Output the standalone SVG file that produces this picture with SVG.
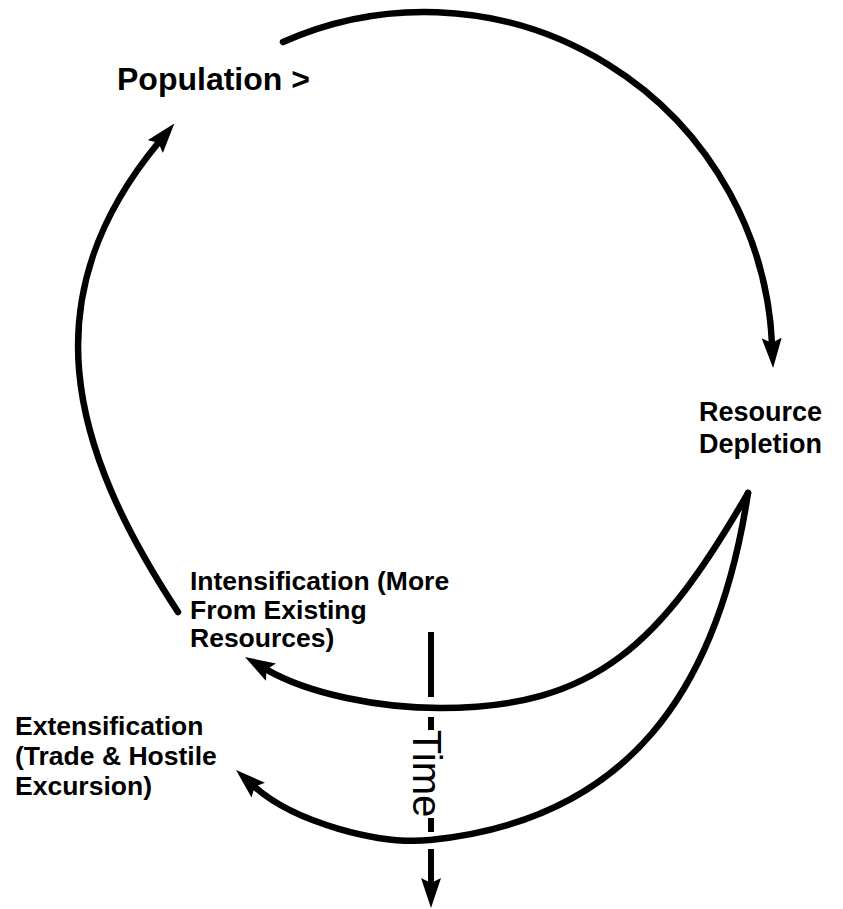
<svg xmlns="http://www.w3.org/2000/svg" width="843" height="909" viewBox="0 0 843 909">
  <style>
    .lbl { font-family: "Liberation Sans", Arial, sans-serif; font-weight: bold; fill: #000; }
    .conn { fill: none; stroke: #000; stroke-width: 6.5; stroke-linecap: round; }
    .axis { fill: none; stroke: #000; stroke-width: 6; stroke-linecap: butt; }
    .axis-lbl { font-family: "Liberation Sans", Arial, sans-serif; font-weight: normal; font-size: 40px; fill: #000; }
  </style>
  <defs>
    <marker id="arrow" viewBox="0 0 30 20" refX="6" refY="10" markerWidth="30" markerHeight="20" markerUnits="userSpaceOnUse" orient="auto">
      <path d="M0,0 L30,10 L0,20 L5,10 Z" fill="#000"/>
    </marker>
  </defs>
  <rect width="843" height="909" fill="#fff"/>

  <g id="connectors">
    <path id="pop-to-depletion" class="conn" marker-end="url(#arrow)" d="M283,42 A348,348 0 0 1 772,344"/>
    <path id="intensification-to-pop" class="conn" marker-end="url(#arrow)" d="M178,612 C68,445 31,296 159,142"/>
    <path id="depletion-to-intensification" class="conn" marker-end="url(#arrow)" d="M748,493 C661,643.7 596,708 440,708 C380,708 309,694.3 265.7,669.1"/>
    <path id="depletion-to-extensification" class="conn" marker-end="url(#arrow)" d="M748,493 C718,691 628,820 430,840 C380.5,845 294.5,823 253.8,786.1"/>
  </g>

  <g id="time">
    <line class="axis" x1="431" y1="632" x2="431" y2="697"/>
    <line class="axis" x1="431" y1="717" x2="431" y2="730"/>
    <line class="axis" x1="431" y1="818" x2="431" y2="832"/>
    <line class="axis" x1="431" y1="849" x2="431" y2="884" marker-end="url(#arrow)"/>
    <text class="axis-lbl" transform="translate(413,773.5) rotate(90)" text-anchor="middle">Time</text>
  </g>

  <g id="population">
    <text class="lbl" x="117" y="90" font-size="32">Population &gt;</text>
  </g>

  <g id="resource-depletion">
    <text class="lbl" x="699" y="421" font-size="27">Resource</text>
    <text class="lbl" x="699" y="453" font-size="27">Depletion</text>
  </g>

  <g id="intensification">
    <text class="lbl" x="190" y="590" font-size="26.5">Intensification (More</text>
    <text class="lbl" x="190" y="618.5" font-size="26.5">From Existing</text>
    <text class="lbl" x="190" y="647" font-size="26.5">Resources)</text>
  </g>

  <g id="extensification">
    <text class="lbl" x="15" y="735" font-size="26.5">Extensification</text>
    <text class="lbl" x="15" y="765" font-size="26.5">(Trade &amp; Hostile</text>
    <text class="lbl" x="15" y="795" font-size="26.5">Excursion)</text>
  </g>
</svg>
